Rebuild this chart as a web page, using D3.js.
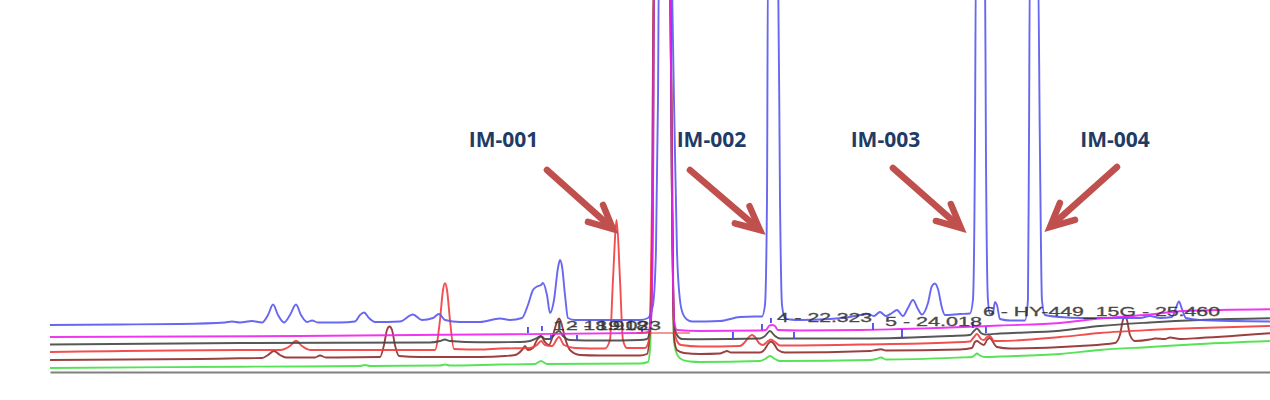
<!DOCTYPE html>
<html><head><meta charset="utf-8">
<script src="https://cdn.jsdelivr.net/npm/d3@7"></script>
<style>html,body{margin:0;padding:0;background:#fff;} svg{display:block;}</style>
</head><body><svg id="chart" width="1270" height="400"></svg>
<script>
// Retention time (min), signal (mAU offset units)
const traceBlue = [[11.57,47],[12.615,47.5],[13.510,48],[14.182,49.5],[14.287,50.5],[14.406,49.5],[14.585,51],[14.734,49.5],[14.824,57],[14.899,67.5],[14.973,57],[15.063,49.5],[15.152,57],[15.242,67.5],[15.316,57],[15.406,50],[15.481,51.5],[15.570,49.5],[15.899,49.5],[16.122,50.5],[16.197,57],[16.257,59.5],[16.331,54],[16.421,50],[16.794,50.5],[16.988,57.5],[17.122,52],[17.287,54],[17.376,58],[17.466,52],[17.690,50],[17.988,50],[18.287,53.5],[18.436,52],[18.615,54],[18.704,67],[18.779,82],[18.839,85.5],[18.899,87],[18.928,89],[18.988,77],[19.033,59],[19.093,72],[19.152,104],[19.182,112],[19.212,106],[19.257,77],[19.301,54],[19.406,52],[19.779,52],[20.376,52],[20.496,54],[20.570,67],[20.615,122],[20.645,272],[20.660,412],[20.839,412],[20.884,272],[20.928,122],[20.973,72],[21.018,58],[21.078,52.5],[21.152,50.5],[21.570,51],[21.869,55],[22.093,55.5],[22.197,55.5],[22.242,67],[22.272,172],[22.287,412],[22.436,412],[22.466,172],[22.496,67],[22.540,54],[22.615,52.5],[22.764,52],[23.212,53],[23.510,55],[23.660,57],[23.779,58],[23.869,56],[23.958,60],[24.048,56],[24.137,59],[24.212,62],[24.301,56],[24.376,64],[24.451,72],[24.525,63],[24.585,57.5],[24.675,69],[24.734,86],[24.779,88.5],[24.824,83],[24.884,64],[24.928,57],[25.152,58],[25.301,58.5],[25.346,72],[25.376,222],[25.391,412],[25.525,412],[25.540,222],[25.570,72],[25.600,58],[25.645,59],[25.675,70],[25.704,67],[25.749,53],[25.899,51.5],[26.122,51.5],[26.167,72],[26.182,222],[26.197,412],[26.316,412],[26.346,222],[26.376,72],[26.421,57],[26.645,55],[26.943,54],[27.242,54],[27.839,54],[27.988,56],[28.137,54],[28.316,55],[28.376,64],[28.421,70.5],[28.466,63],[28.525,54],[28.734,52],[29.779,50.5]];
const traceMagenta = [[11.57,35],[15.301,36],[17.988,37.5],[20.376,39],[20.496,40],[20.540,52],[20.570,172],[20.585,412],[20.824,412],[20.854,172],[20.884,52],[20.928,42],[21.272,41],[22.167,41.5],[22.257,42],[22.301,46],[22.346,47],[22.391,46],[22.436,42],[22.764,41.5],[23.660,42],[25.003,44.5],[25.749,46.5],[26.645,49],[27.242,53.5],[27.988,57.5],[28.481,61],[29.779,62.7]];
const traceBlack = [[11.57,27.5],[14.406,29],[17.242,29.5],[17.391,31],[17.466,32.5],[17.540,31],[17.988,29.7],[18.585,30],[18.734,31],[18.839,34],[18.899,36],[18.958,33],[19.033,33],[19.122,39],[19.167,41],[19.227,36],[19.331,32],[19.779,31.5],[20.376,32],[20.481,33],[20.540,52],[20.570,172],[20.585,412],[20.824,412],[20.854,172],[20.884,50],[20.928,37],[21.003,33],[21.272,32.7],[22.167,33.5],[22.242,36],[22.316,41],[22.391,36],[22.466,33.5],[23.660,33.5],[25.003,36],[25.301,37],[25.361,41],[25.406,43.5],[25.466,39],[25.525,37.5],[25.749,38.5],[26.645,41.3],[27.242,46],[27.988,49.5],[28.734,52],[29.779,53.7]];
const traceRed = [[11.57,20],[14.406,22],[15.003,22],[15.152,26],[15.242,31.3],[15.331,26],[15.451,22],[17.316,22],[17.391,52],[17.436,82],[17.466,88.7],[17.496,82],[17.540,52],[17.600,23],[17.988,22.5],[18.287,23.5],[18.734,24],[18.839,27],[18.899,31],[18.958,27],[19.063,26],[19.167,35],[19.242,27],[19.406,24],[19.854,23.5],[19.928,32],[19.973,92],[20.028,152],[20.078,92],[20.122,32],[20.182,24],[20.451,24],[20.510,32],[20.555,172],[20.585,412],[20.824,412],[20.854,172],[20.884,45],[20.928,31],[20.988,27],[21.272,25.5],[21.869,26],[21.943,30],[22.003,35],[22.048,37],[22.093,35],[22.152,29],[22.212,27],[22.272,30],[22.331,32.5],[22.391,30],[22.466,26.5],[23.660,27.5],[25.003,29.5],[25.301,30.5],[25.361,35],[25.406,38],[25.466,33],[25.510,32],[25.555,35],[25.600,36],[25.660,31],[25.749,31],[26.645,35],[27.242,39],[27.988,42],[28.734,44],[29.779,46]];
const traceBrown = [[11.57,12],[13.809,13],[14.406,13.7],[14.734,14],[14.824,17],[14.913,21],[15.003,17],[15.093,14.5],[15.525,14.5],[15.600,16.5],[15.690,14.5],[16.496,15],[16.555,27],[16.600,42],[16.637,45.5],[16.675,42],[16.719,27],[16.779,16],[17.093,15],[17.988,15],[18.361,16],[18.510,17],[18.615,22],[18.660,26],[18.704,22],[18.779,24],[18.839,32],[18.899,35.5],[18.958,30],[19.018,27],[19.078,37],[19.137,50],[19.167,53.5],[19.197,50],[19.257,34],[19.331,22],[19.481,17],[19.779,16.5],[20.376,16.5],[20.481,18],[20.525,42],[20.570,222],[20.585,412],[20.824,412],[20.854,222],[20.884,35],[20.928,22],[21.033,19],[21.272,18],[21.570,18.5],[21.630,20],[21.675,21],[21.734,19.5],[22.167,19.5],[22.242,23],[22.287,28],[22.331,30.5],[22.376,28],[22.436,22],[22.540,19.5],[23.809,21],[23.899,22],[23.973,22.7],[24.048,21.5],[25.152,22.5],[25.331,24],[25.376,30],[25.406,31],[25.451,29],[25.510,27],[25.555,32],[25.600,34],[25.645,30],[25.704,25],[25.899,23.5],[26.943,26],[27.466,29],[27.540,37],[27.585,52],[27.615,56],[27.645,52],[27.690,37],[27.764,31],[27.988,32.5],[28.063,33.5],[28.212,33],[28.287,34.5],[28.436,33],[28.734,34],[29.779,38.7]];
const traceGreen = [[11.57,4],[14.406,5.3],[16.197,6],[16.272,7],[16.346,6],[17.391,6.5],[17.466,7.5],[17.540,6.5],[18.287,7.5],[18.809,8],[18.899,11],[18.988,8],[20.376,8.5],[20.496,10],[20.525,22],[20.555,122],[20.585,412],[20.824,412],[20.854,172],[20.884,30],[20.943,16],[21.018,12],[21.122,10.5],[21.272,10],[22.167,11],[22.242,13],[22.316,16],[22.391,13],[22.466,11],[23.809,12],[23.899,13],[23.973,14.5],[24.048,12.5],[25.152,14.5],[25.331,15],[25.376,17],[25.406,18.5],[25.451,16.5],[25.525,15],[25.749,15.5],[26.645,18],[27.242,22],[27.988,25],[28.734,28],[29.779,31]];

const seriesNames = ["green","brown","red","black","blue","magenta"];
const seriesColors = ["#45e045","#8e2c2c","#ef3c3c","#454545","#5656f0","#f020f0"];

// integration baseline (red) and peak event ticks (blue)
const redBaselineRT = [20.331, 21.122];
const redBaselineV = 39;
const tickRT = [18.704,18.913,19.048,19.436,20.406,21.764,22.197,22.331,22.675,23.854,24.287,25.346,25.540];
const tickTop = [45,46,37,37,45,40,48,54,40,49,43,50,45];
const tickBottom = [39,41,32,32,40,33,42,49,33,42,35,44,39];

// peak labels
const peakLabelText = ["1 - 18.918","2 - 19.023","4 - 22.323","5 - 24.018","6 - HY-449_15G - 25.460"];
const peakLabelRT = [19.078,19.272,22.421,24.033,25.496];
const peakLabelV = [42.5,42.5,50.3,46,56];
const peakLabelWidth = [95,95,95,97,237];

// impurity annotations
const impurityNames = ["IM-001","IM-002","IM-003","IM-004"];
const impurityLabelRT = [18.339,21.443,24.040,27.466];
const impurityLabelV = [225,225,225,225];
const arrowTipRT = [19.973,22.167,25.167,26.496];
const arrowTipV = [143,142,144,145];
const arrowTailRT = [18.988,21.122,24.152,27.496];
const arrowTailV = [202,202,204,205];

const svg = d3.select("#chart");
svg.append("rect").attr("width",1270).attr("height",400).attr("fill","#fff");

const x = d3.scaleLinear().domain([11.57, 29.78]).range([50, 1270]);
const y = d3.scaleLinear().domain([0, 372]).range([372, 0]);

svg.append("defs").append("clipPath").attr("id","plot")
  .append("rect").attr("x",48).attr("y",0).attr("width",1222).attr("height",372);

// axis
const axis = svg.append("g").attr("transform","translate(0,372)")
  .call(d3.axisBottom(x).ticks(0).tickSizeOuter(0).tickFormat(""));
axis.select(".domain").attr("stroke","#808080").attr("stroke-width",2);

const line = d3.line().x(d=>x(d[0])).y(d=>y(d[1])).curve(d3.curveMonotoneX);
const traces = [traceGreen, traceBrown, traceRed, traceBlack, traceBlue, traceMagenta];
const g = svg.append("g").attr("clip-path","url(#plot)");
traces.forEach((tr,i)=>{
  g.append("path").datum(tr).attr("d",line).attr("fill","none")
   .attr("stroke",seriesColors[i]).attr("stroke-width",1.9)
   .attr("stroke-linejoin","round").attr("opacity",0.9);
});

g.append("line").attr("x1",x(redBaselineRT[0])).attr("x2",x(redBaselineRT[1]))
  .attr("y1",y(redBaselineV)).attr("y2",y(redBaselineV))
  .attr("stroke","#ee3030").attr("stroke-width",1.2);

g.selectAll(".tick-ev").data(tickRT).enter().append("line")
  .attr("x1",d=>x(d)).attr("x2",d=>x(d))
  .attr("y1",(d,i)=>y(tickTop[i])).attr("y2",(d,i)=>y(tickBottom[i]))
  .attr("stroke","#4848e8").attr("stroke-width",1.8);

svg.selectAll(".plabel").data(peakLabelText).enter().append("text")
  .attr("x",(d,i)=>x(peakLabelRT[i])).attr("y",(d,i)=>y(peakLabelV[i]))
  .attr("textLength",(d,i)=>peakLabelWidth[i]).attr("lengthAdjust","spacingAndGlyphs")
  .attr("font-family","'Liberation Sans', Arial, sans-serif").attr("font-size",12.5)
  .attr("fill","#2a2a2a").attr("stroke","#2a2a2a").attr("stroke-width",0.3)
  .attr("opacity",0.85).text(d=>d);

// arrows
const arrowColor = "#c0504d";
impurityNames.forEach((nm,i)=>{
  const tx = x(arrowTipRT[i]), ty = y(arrowTipV[i]);
  const sx = x(arrowTailRT[i]), sy = y(arrowTailV[i]);
  const ang = Math.atan2(sy-ty, sx-tx);
  const L = 26, a = 0.45;
  const w1 = [tx + L*Math.cos(ang+a), ty + L*Math.sin(ang+a)];
  const w2 = [tx + L*Math.cos(ang-a), ty + L*Math.sin(ang-a)];
  svg.append("line").attr("x1",sx).attr("y1",sy).attr("x2",tx+3*Math.cos(ang)).attr("y2",ty+3*Math.sin(ang))
    .attr("stroke",arrowColor).attr("stroke-width",6.5).attr("stroke-linecap","round");
  svg.append("path").attr("d",`M${w1[0]},${w1[1]}L${tx},${ty}L${w2[0]},${w2[1]}`)
    .attr("fill","none").attr("stroke",arrowColor).attr("stroke-width",6.5)
    .attr("stroke-linejoin","miter").attr("stroke-linecap","round");
  svg.append("text").attr("x",x(impurityLabelRT[i])).attr("y",y(impurityLabelV[i]))
    .attr("text-anchor","middle").attr("font-family","'Open Sans', 'Noto Sans', sans-serif")
    .attr("font-weight",700).attr("font-size",21).attr("fill","#1f3b66")
    .text(nm);
});
</script></body></html>
